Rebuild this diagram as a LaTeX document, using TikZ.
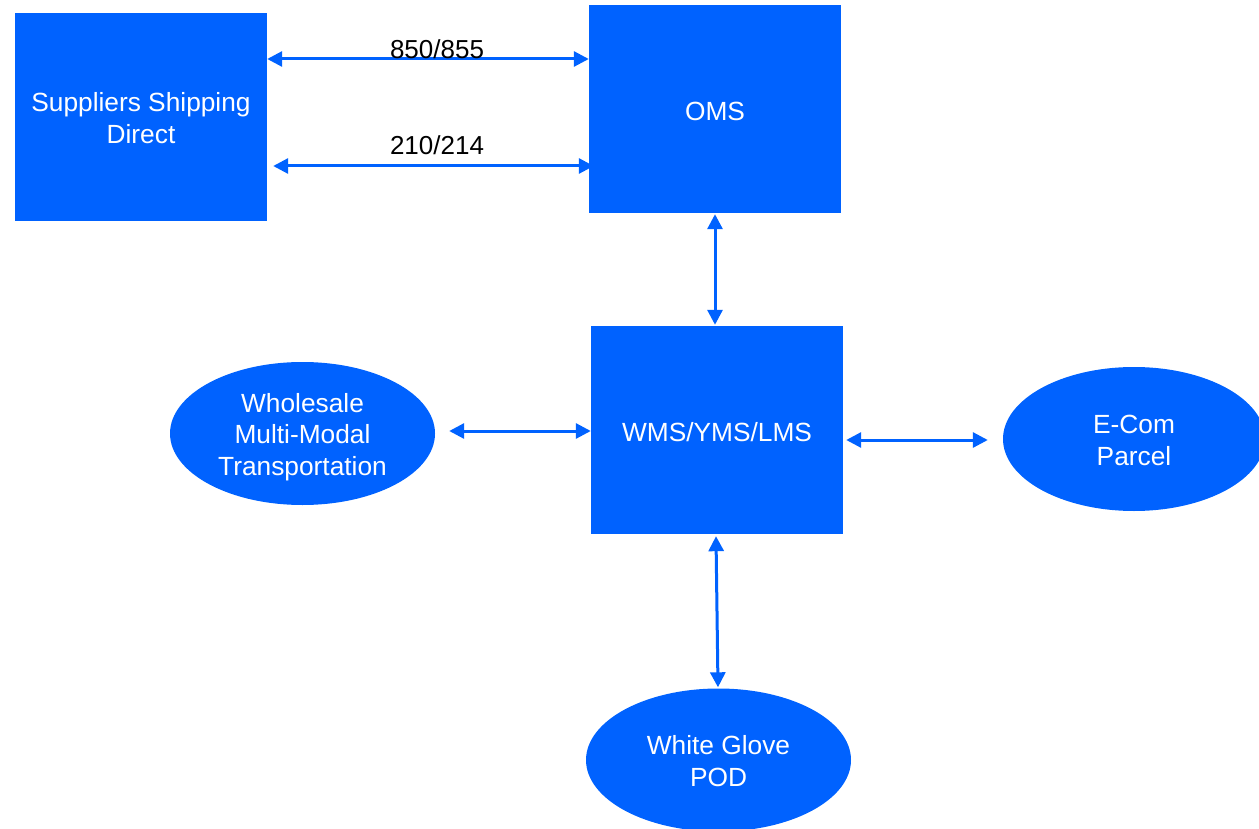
\documentclass[tikz,border=0pt]{standalone}
\usepackage{fontspec}
\setmainfont{Liberation Sans}
\usetikzlibrary{arrows.meta,shapes.geometric}
\definecolor{ibm}{RGB}{0,98,255}
\begin{document}
\begin{tikzpicture}[x=1pt,y=-1pt,
  box/.style={fill=ibm,draw=none,minimum width=252pt,minimum height=208pt,inner sep=0pt},
  oval/.style={ellipse,fill=ibm,draw=none,minimum width=265pt,minimum height=143pt,inner sep=0pt},
  txt/.style={text=white,align=center,inner sep=0pt,font=\fontsize{26.3}{31.5}\selectfont},
  arr/.style={draw=ibm,line width=3pt,{Triangle[length=15pt,width=15pt]}-{Triangle[length=15pt,width=15pt]}},
  lbl/.style={text=black,font=\fontsize{26}{31.5}\selectfont,inner sep=0pt}]
\useasboundingbox (0,0) rectangle (1259,829);
\clip (0,0) rectangle (1259,829);
\node[box,label={[txt,yshift=-1pt]center:Suppliers Shipping\\Direct}] (sup) at (141,117) {};
\node[box,label={[txt,yshift=-2.5pt]center:OMS}] (oms) at (715,109) {};
\node[box,label={[txt,yshift=-2pt]center:WMS/YMS/LMS}] (wms) at (717,430) {};
\node[oval,label={[txt,yshift=-3.5pt]center:Wholesale\\Multi-Modal\\Transportation}] (whole) at (302.5,433.5) {};
\node[oval,minimum width=262pt,minimum height=144pt,label={[txt,yshift=-1.5pt]center:E-Com\\Parcel}] (ecom) at (1134,439) {};
\node[oval,label={[txt,yshift=-1pt]center:White Glove\\POD}] (glove) at (718.5,760) {};

\draw[arr] ([yshift=58pt]sup.east) -- ([yshift=50pt]oms.west);
\draw[arr] ([xshift=6pt,yshift=-49pt]sup.east) -- ([xshift=5pt,yshift=-57pt]oms.west);
\node[lbl] (l1) at (437,49) {850/855};
\node[lbl] (l2) at (437,145.5) {210/214};
\draw[arr] ([yshift=-1pt]oms.south) -- ([xshift=-2pt,yshift=1pt]wms.north);
\draw[arr] ([xshift=14pt,yshift=2.5pt]whole.east) -- ([yshift=-1pt]wms.west);
\draw[arr] ([xshift=3pt,yshift=-10pt]wms.east) -- ([xshift=-15pt,yshift=-1pt]ecom.west);
\draw[arr] ([xshift=-1pt,yshift=-2pt]wms.south) -- ([xshift=-0.5pt,yshift=1pt]glove.north);
\end{tikzpicture}
\end{document}
